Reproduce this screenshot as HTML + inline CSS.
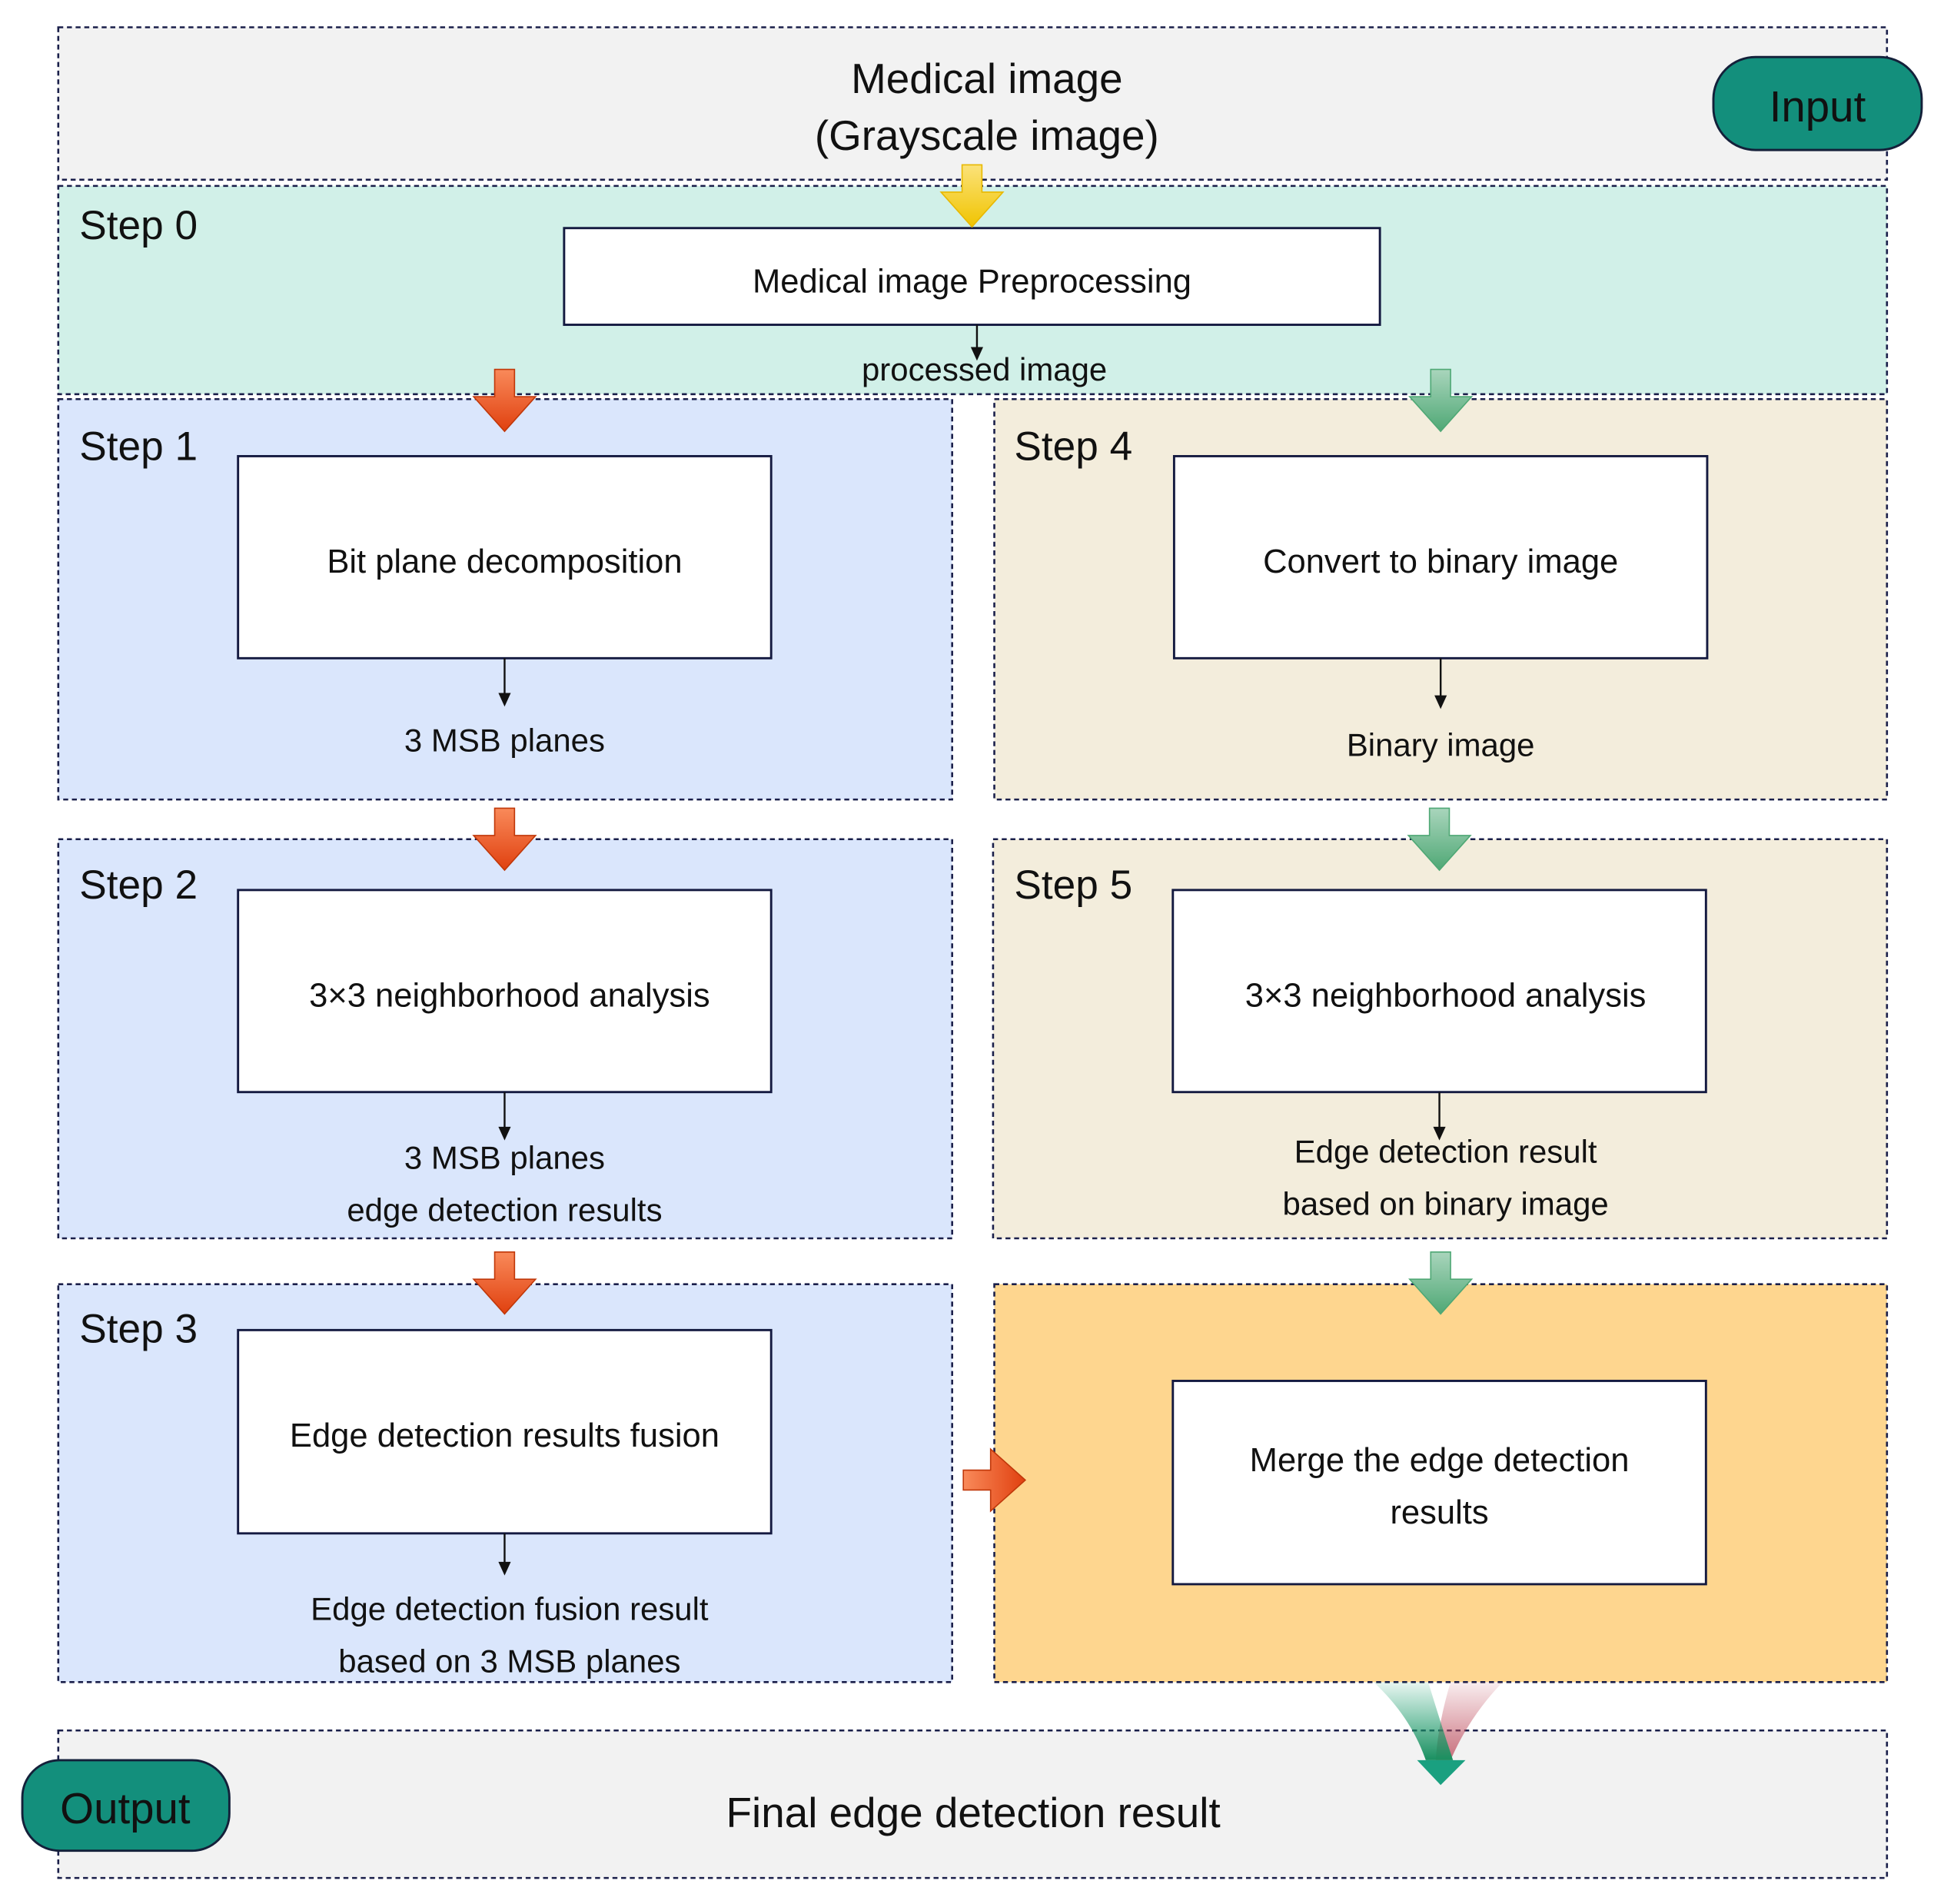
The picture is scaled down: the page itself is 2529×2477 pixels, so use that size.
<!DOCTYPE html>
<html><head><meta charset="utf-8"><style>html,body{margin:0;padding:0;background:#fff}svg{display:block}</style></head>
<body>
<svg width="2529" height="2477" viewBox="0 0 1568 1536" preserveAspectRatio="none" xmlns="http://www.w3.org/2000/svg" font-family="Liberation Sans, DejaVu Sans, sans-serif">
<defs>
<linearGradient id="red" x1="0" y1="0" x2="0" y2="1"><stop offset="0" stop-color="#f98a5a"/><stop offset="1" stop-color="#e0400f"/></linearGradient>
<linearGradient id="redh" x1="0" y1="0" x2="1" y2="0"><stop offset="0" stop-color="#f98a5a"/><stop offset="1" stop-color="#e0400f"/></linearGradient>
<linearGradient id="grn" x1="0" y1="0" x2="0" y2="1"><stop offset="0" stop-color="#a9d5bc"/><stop offset="1" stop-color="#4fa875"/></linearGradient>
<linearGradient id="yel" x1="0" y1="0" x2="0" y2="1"><stop offset="0" stop-color="#fbe27a"/><stop offset="1" stop-color="#f0c400"/></linearGradient>
<linearGradient id="fg" x1="0" y1="0" x2="0" y2="1"><stop offset="0" stop-color="#1aa070" stop-opacity="0.1"/><stop offset="1" stop-color="#1a9060"/></linearGradient>
<linearGradient id="fr" x1="0" y1="0" x2="0" y2="1"><stop offset="0" stop-color="#c05060" stop-opacity="0.1"/><stop offset="1" stop-color="#c05060" stop-opacity="0.8"/></linearGradient>
</defs>
<g stroke="#1a1f4a" stroke-width="1.6" stroke-dasharray="4,3">
<rect x="47" y="22" width="1475" height="123" fill="#f2f2f2"/>
<rect x="47" y="150" width="1475" height="168" fill="#d1f0e8"/>
<rect x="47" y="322" width="721" height="323" fill="#dae6fc"/>
<rect x="802" y="322" width="720" height="323" fill="#f3eddc"/>
<rect x="47" y="677" width="721" height="322" fill="#dae6fc"/>
<rect x="801" y="677" width="721" height="322" fill="#f3eddc"/>
<rect x="47" y="1036" width="721" height="321" fill="#dae6fc"/>
<rect x="802" y="1036" width="720" height="321" fill="#fed68f"/>
<rect x="47" y="1396" width="1475" height="119" fill="#f2f2f2"/>
</g>
<g fill="#fff" stroke="#141a40" stroke-width="1.8">
<rect x="455" y="184" width="658" height="78"/>
<rect x="192" y="368" width="430" height="163"/>
<rect x="947" y="368" width="430" height="163"/>
<rect x="192" y="718" width="430" height="163"/>
<rect x="946" y="718" width="430" height="163"/>
<rect x="192" y="1073" width="430" height="164"/>
<rect x="946" y="1114" width="430" height="164"/>
</g>
<rect x="1382" y="46" width="168" height="75" rx="34" fill="#138f7c" stroke="#14203a" stroke-width="1.8"/>
<rect x="18" y="1420" width="167" height="73" rx="30" fill="#138f7c" stroke="#14203a" stroke-width="1.8"/>
<!-- small arrows -->
<g stroke="#111" stroke-width="1.5">
<line x1="788" y1="262" x2="788" y2="282"/>
<line x1="407" y1="531" x2="407" y2="561"/>
<line x1="1162" y1="531" x2="1162" y2="563"/>
<line x1="407" y1="881" x2="407" y2="911"/>
<line x1="1161" y1="881" x2="1161" y2="911"/>
<line x1="407" y1="1237" x2="407" y2="1262"/>
</g>
<g fill="#111">
<path d="M783,280 h10 l-5,11 z"/>
<path d="M402,559 h10 l-5,11 z"/>
<path d="M1157,561 h10 l-5,11 z"/>
<path d="M402,909 h10 l-5,11 z"/>
<path d="M1156,909 h10 l-5,11 z"/>
<path d="M402,1260 h10 l-5,11 z"/>
</g>
<!-- block arrows -->
<path d="M776,133 h16 v22 h17 l-25,28 l-25,-28 h17 z" fill="url(#yel)" stroke="#e8b800" stroke-width="1"/>
<g fill="url(#red)" stroke="#c0380a" stroke-width="1">
<path d="M399,298 h16 v22 h17 l-25,28 l-25,-28 h17 z"/>
<path d="M399,652 h16 v22 h17 l-25,28 l-25,-28 h17 z"/>
<path d="M399,1010 h16 v22 h17 l-25,28 l-25,-28 h17 z"/>
</g>
<g fill="url(#grn)" stroke="#4fa875" stroke-width="1">
<path d="M1154,298 h16 v22 h17 l-25,28 l-25,-28 h17 z"/>
<path d="M1153,652 h16 v22 h17 l-25,28 l-25,-28 h17 z"/>
<path d="M1154,1010 h16 v22 h17 l-25,28 l-25,-28 h17 z"/>
</g>
<path d="M777,1186 h22 v-17 l28,25 l-28,25 v-17 h-22 z" fill="url(#redh)" stroke="#c0380a" stroke-width="1"/>
<path d="M1170,1357 L1212,1357 Q1185,1385 1170,1420 L1158,1420 Q1160,1390 1170,1357 z" fill="url(#fr)"/>
<path d="M1108,1357 L1152,1357 Q1162,1390 1172,1420 L1150,1420 Q1138,1385 1108,1357 z" fill="url(#fg)"/>
<path d="M1143,1420 h39 l-20,20 z" fill="#1aa080"/>
<!-- text -->
<g fill="#111" text-anchor="middle">
<text x="796" y="75" font-size="34">Medical image</text>
<text x="796" y="121" font-size="34">(Grayscale image)</text>
<text x="1466" y="98" font-size="35">Input</text>
<text x="101" y="1471" font-size="35">Output</text>
<text x="784" y="236" font-size="27">Medical image Preprocessing</text>
<text x="794" y="307" font-size="26">processed image</text>
<text x="407" y="462" font-size="27">Bit plane decomposition</text>
<text x="1162" y="462" font-size="27">Convert to binary image</text>
<text x="407" y="606" font-size="26">3 MSB planes</text>
<text x="1162" y="610" font-size="26">Binary image</text>
<text x="411" y="812" font-size="27">3×3 neighborhood analysis</text>
<text x="1166" y="812" font-size="27">3×3 neighborhood analysis</text>
<text x="407" y="943" font-size="26">3 MSB planes</text>
<text x="407" y="985" font-size="26">edge detection results</text>
<text x="1166" y="938" font-size="26">Edge detection result</text>
<text x="1166" y="980" font-size="26">based on binary image</text>
<text x="407" y="1167" font-size="27">Edge detection results fusion</text>
<text x="1161" y="1187" font-size="27">Merge the edge detection</text>
<text x="1161" y="1229" font-size="27">results</text>
<text x="411" y="1307" font-size="26">Edge detection fusion result</text>
<text x="411" y="1349" font-size="26">based on 3 MSB planes</text>
<text x="785" y="1474" font-size="34">Final edge detection result</text>
</g>
<g fill="#111" font-size="33">
<text x="64" y="193">Step 0</text>
<text x="64" y="371">Step 1</text>
<text x="818" y="371">Step 4</text>
<text x="64" y="725">Step 2</text>
<text x="818" y="725">Step 5</text>
<text x="64" y="1083">Step 3</text>
</g>
</svg>
</body></html>
